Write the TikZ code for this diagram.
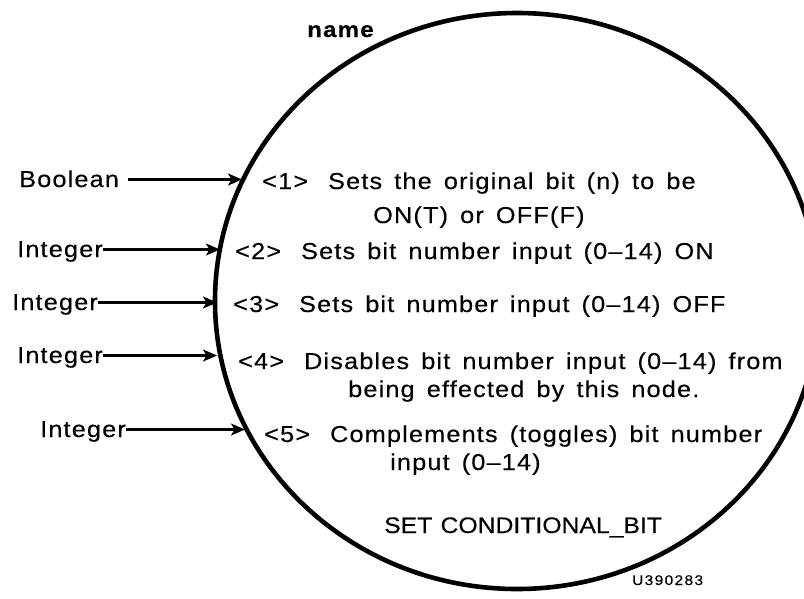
\documentclass[tikz,border=0pt]{standalone}
\usepackage{fontspec}
\setmainfont{Liberation Sans}[FakeStretch=1.1, LetterSpace=5, WordSpace=1.48, FakeBold=0.3]
\newfontfamily\capsfont{Liberation Sans}[FakeStretch=1.1, LetterSpace=0, WordSpace=1.2, FakeBold=0.3]
\newfontfamily\codefont{Liberation Sans}[FakeStretch=1.1, LetterSpace=10, FakeBold=0.2]
\usetikzlibrary{arrows.meta}
\begin{document}
\begin{tikzpicture}[x=1pt,y=-1pt,
  txt/.style={inner sep=0pt, anchor=base west, font=\fontsize{23}{26}\selectfont},
  lab/.style={txt, text height=15pt, text depth=0pt},
  arr/.style={line width=2.2pt, -{Stealth[length=14pt,width=12pt,inset=3.5pt]}},
  rim/.style={line width=4.6pt}
]
\useasboundingbox (0,0) rectangle (804,598);
\fill[white] (0,0) rectangle (804,598);
\begin{scope}
  \clip (0,0) rectangle (804,598);
  \draw[rim] (517,301) ellipse [x radius=302, y radius=288];
\end{scope}

% title
\node[txt, font=\fontsize{22}{24}\selectfont\bfseries] (name) at (307,37) {name};

% inner texts
\node[txt] (l1)  at (262,189) {<1>\hspace{20pt}Sets the original bit (n) to be};
\node[txt] (l1b) at (373,223) {ON(T) or OFF(F)};
\node[txt] (l2)  at (235,259) {<2>\hspace{20pt}Sets bit number input (0--14) ON};
\node[txt] (l3)  at (233,312) {<3>\hspace{20pt}Sets bit number input (0--14) OFF};
\node[txt] (l4)  at (238,369) {<4>\hspace{20pt}Disables bit number input (0--14) from};
\node[txt] (l4b) at (348,397) {being effected by this node.};
\node[txt] (l5)  at (264,442) {<5>\hspace{20pt}Complements (toggles) bit number};
\node[txt] (l5b) at (390,470) {input (0--14)};
\node[txt, font=\fontsize{22.5}{25}\capsfont] (set) at (384,533) {SET CONDITIONAL\_BIT};
\node[txt, font=\fontsize{14}{16}\codefont] (code) at (632,585) {U390283};

% input labels
\node[lab] (b)  at (19,187) {Boolean};
\node[lab] (i2) at (17,257) {Integer};
\node[lab] (i3) at (12,310) {Integer};
\node[lab] (i4) at (17,363) {Integer};
\node[lab] (i5) at (40,437) {Integer};

% arrow tips on the rim
\coordinate (t1) at (242,179);
\coordinate (t2) at (220,249);
\coordinate (t3) at (217,303);
\coordinate (t4) at (217,356);
\coordinate (t5) at (245,430);

\draw[arr] ([xshift=9pt]b.east) -- (b.east -| t1);
\draw[arr] (i2.east) -- (i2.east -| t2);
\draw[arr] (i3.east) -- (i3.east -| t3);
\draw[arr] (i4.east) -- (i4.east -| t4);
\draw[arr] (i5.east) -- (i5.east -| t5);
\end{tikzpicture}
\end{document}
